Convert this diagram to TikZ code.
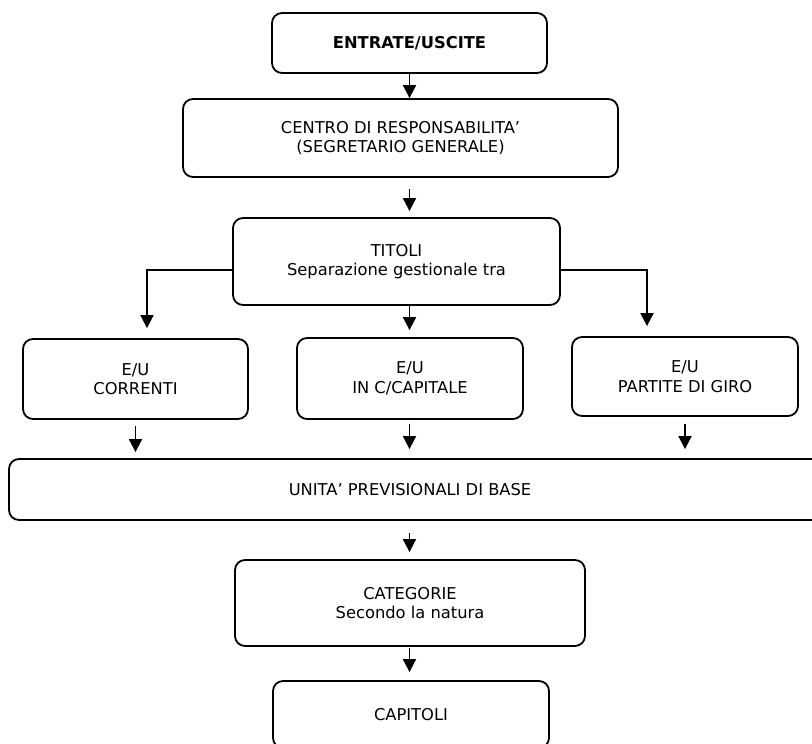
\documentclass[tikz,border=0pt]{standalone}
\usepackage{fontspec}
\setmainfont{DejaVu Sans}
\usetikzlibrary{arrows.meta}
\begin{document}
\begin{tikzpicture}[x=1pt,y=-1pt,
  txt/.style={font=\fontsize{16.3}{19.5}\selectfont,align=center,inner sep=0pt},
  box/.style={txt,draw,line width=1.8pt,rounded corners=10pt},
  arr/.style={line width=1.8pt,-{Triangle[width=13pt,length=13pt]}}]
\clip (0,0) rectangle (812,744);
\node[box,minimum width=275pt,minimum height=60pt,font=\fontsize{16.3}{19.5}\selectfont\bfseries] (ent) at (409.5,43) {ENTRATE/USCITE};
\node[box,minimum width=435pt,minimum height=78pt] (cen) at (400.5,138) {CENTRO DI RESPONSABILITA'\\(SEGRETARIO GENERALE)};
\node[box,minimum width=327pt,minimum height=87pt] (tit) at (396.5,261.5) {TITOLI\\Separazione gestionale tra};
\node[box,minimum width=225pt,minimum height=80pt] (cor) at (135.5,379) {E/U\\CORRENTI};
\node[box,minimum width=226pt,minimum height=81pt] (cca) at (410,378.5) {E/U\\IN C/CAPITALE};
\node[box,minimum width=226pt,minimum height=79pt] (par) at (685,376.5) {E/U\\PARTITE DI GIRO};
\node[box,minimum width=830pt,minimum height=61pt] (upb) at (424,489.5) {};
\node[txt] (upbt) at (410,489.5) {UNITA' PREVISIONALI DI BASE};
\node[box,minimum width=350pt,minimum height=86pt] (ctg) at (410,603) {CATEGORIE\\Secondo la natura};
\node[box,minimum width=276pt,minimum height=67pt] (cpt) at (411,714.5) {CAPITOLI};
% connectors
\draw[arr] (ent.south) -- (ent.south |- cen.north);
\draw[arr,shorten <=11pt,shorten >=6pt] (ent.south |- cen.south) -- (ent.south |- tit.north);
\draw[arr,shorten >=7pt] (ent.south |- tit.south) -- (ent.south |- cca.north);
\draw[arr,shorten >=10pt] ([yshift=-8.5pt]tit.west) -| ([xshift=11.5pt]cor.north);
\draw[arr,shorten >=10pt] ([yshift=-8.5pt]tit.east) -| ([xshift=-38pt]par.north);
\draw[arr,shorten <=6pt,shorten >=6pt] (cor.south) -- (cor.south |- upb.north);
\draw[arr,shorten <=4pt,shorten >=9pt] (ent.south |- cca.south) -- (ent.south |- upb.north);
\draw[arr,shorten <=7pt,shorten >=9pt] (par.south) -- (par.south |- upb.north);
\draw[arr,shorten <=12pt,shorten >=7pt] (ent.south |- upb.south) -- (ent.south |- ctg.north);
\draw[arr,shorten <=1pt,shorten >=8pt] (ent.south |- ctg.south) -- (ent.south |- cpt.north);
\end{tikzpicture}
\end{document}
